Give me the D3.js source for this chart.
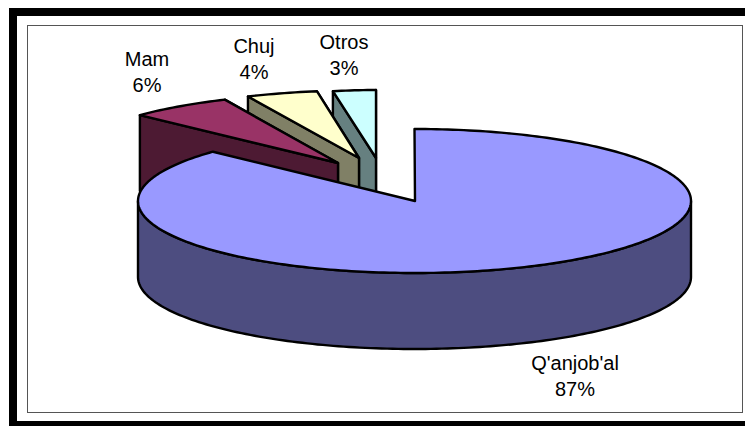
<!DOCTYPE html>
<html>
<head>
<meta charset="utf-8">
<script src="https://cdn.jsdelivr.net/npm/d3@7"></script>
<style>
  html, body { margin: 0; padding: 0; background: #fff; }
  svg { display: block; }
  text { font-family: "Liberation Sans", Arial, sans-serif; font-size: 20px; fill: #000; text-anchor: middle; }
</style>
</head>
<body>
<div id="chart"></div>
<script>
const categories = ["Q'anjob'al", "Mam", "Chuj", "Otros"];
const percents = [87, 6, 4, 3];
const topColors = ["#9999ff", "#993366", "#ffffcc", "#ccffff"];
const wallColors = ["#4d4d80", "#4d1a33", "#808066", "#668080"];

const width = 745;
const height = 426;
const depth = 76;

// where each slice sits once pulled out of the pie, far slices are drawn smaller
const sliceLayout = [
  {apexX: 415, apexY: 201, rx: 276.5, ry: 72, arcShift: -0.5},
  {apexX: 338, apexY: 163, rx: 280, ry: 70, arcShift: 6},
  {apexX: 359, apexY: 158, rx: 289, ry: 68, arcShift: 12},
  {apexX: 376, apexY: 158, rx: 230, ry: 68, arcShift: 0}
];
const labelLayout = [
  {x: 575, y: 370},
  {x: 147, y: 66},
  {x: 254, y: 53},
  {x: 344, y: 49}
];

const svg = d3.select("#chart").append("svg")
  .attr("width", width)
  .attr("height", height);

// page frame: heavy black on top and left and bottom, thin grey chart box inside
svg.append("rect").attr("x", 9).attr("y", 8).attr("width", width - 9).attr("height", 8).attr("fill", "#000");
svg.append("rect").attr("x", 9).attr("y", 8).attr("width", 8).attr("height", height - 8).attr("fill", "#000");
svg.append("rect").attr("x", 9).attr("y", 421).attr("width", width - 9).attr("height", 5).attr("fill", "#000");
svg.append("rect")
  .attr("x", 27.5).attr("y", 25.5)
  .attr("width", 715).attr("height", 387)
  .attr("fill", "#fff")
  .attr("stroke", "#555")
  .attr("stroke-width", 1);

const pie = d3.pie().sort(null).value(d => d)(percents);

const rimPoint = (layout, angle, drop = 0) => [
  layout.apexX + layout.arcShift + layout.rx * Math.sin(angle),
  layout.apexY - layout.ry * Math.cos(angle) + drop
];

const rimPoints = (layout, from, to, drop = 0) => {
  const steps = Math.max(2, Math.ceil(Math.abs(to - from) / 0.02));
  return d3.range(steps + 1).map(i => rimPoint(layout, from + (to - from) * i / steps, drop));
};

const line = d3.line();

function drawSlice(index) {
  const slice = pie[index];
  const layout = sliceLayout[index];
  const g = svg.append("g")
    .attr("stroke", "#000")
    .attr("stroke-width", 2.4)
    .attr("stroke-linejoin", "round");
  const apex = [layout.apexX, layout.apexY];

  if (index === 0) {
    // front wall runs from the right extreme round to the left extreme
    const front = rimPoints(layout, Math.PI / 2, Math.PI * 1.5);
    const frontLow = rimPoints(layout, Math.PI * 1.5, Math.PI / 2, depth);
    g.append("path").attr("d", line(front.concat(frontLow)) + "Z").attr("fill", wallColors[index]);
  } else {
    // cut faces showing under the pulled out slices
    const start = rimPoint(layout, slice.startAngle);
    const end = rimPoint(layout, slice.endAngle);
    const low = p => [p[0], p[1] + depth];
    g.append("path")
      .attr("d", line([end, apex, low(apex), low(end)]) + "Z")
      .attr("fill", wallColors[index]);
    g.append("path")
      .attr("d", line([start, apex, low(apex), low(start)]) + "Z")
      .attr("fill", wallColors[index]);
  }

  const top = [apex].concat(rimPoints(layout, slice.startAngle, slice.endAngle));
  g.append("path").attr("d", line(top) + "Z").attr("fill", topColors[index]);
}

// back slices first, the big slice covers the feet of the others
[3, 2, 1, 0].forEach(drawSlice);

const labels = svg.append("g");
categories.forEach((name, i) => {
  const text = labels.append("text").attr("x", labelLayout[i].x).attr("y", labelLayout[i].y);
  text.append("tspan").attr("x", labelLayout[i].x).text(name);
  text.append("tspan").attr("x", labelLayout[i].x).attr("dy", 26).text(percents[i] + "%");
});
</script>
</body>
</html>
